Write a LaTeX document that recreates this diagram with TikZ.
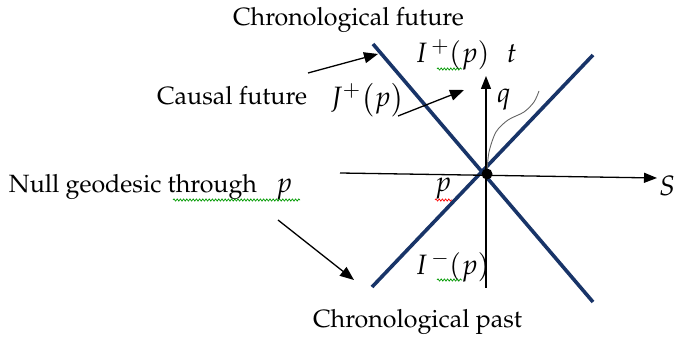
\documentclass[tikz,border=0pt]{standalone}
\usepackage[T1]{fontenc}
\usepackage{mathpazo}
\usetikzlibrary{arrows.meta,decorations.pathmorphing}
\definecolor{navy}{RGB}{24,52,104}
\tikzset{
  lbl/.style={inner sep=0pt,outer sep=0pt,anchor=base west,font=\fontsize{25}{30}\selectfont},
  mlbl/.style={inner sep=0pt,outer sep=0pt,anchor=base west,font=\fontsize{28}{32}\selectfont},
  nullline/.style={navy,line width=3.6pt},
  axis/.style={black,line width=1.3pt,-{Triangle[length=13pt,width=10pt]}},
  pointer/.style={black,line width=1.3pt,-{Triangle[length=14pt,width=11pt]}},
  squig/.style={line width=0.7pt,decorate,decoration={snake,amplitude=1.1pt,segment length=3.2pt}},
  worldline/.style={gray!80!black,line width=0.9pt}
}
\begin{document}
\begin{tikzpicture}[x=1pt,y=-1pt]
\useasboundingbox (0,0) rectangle (678,339);
% coordinates
\coordinate (P) at (487,174);
\coordinate (A1) at (373,44);
\coordinate (A2) at (593,302);
\coordinate (B1) at (372,287);
\coordinate (B2) at (593,55);
\coordinate (H1) at (340,173);
\coordinate (H2) at (657,178);
\coordinate (V1) at (486,288);
\coordinate (V2) at (486,76);
\coordinate (r1s) at (308,73);
\coordinate (r1e) at (378,54);
\coordinate (r2s) at (398,116);
\coordinate (r2e) at (464,90);
\coordinate (r3s) at (278,220);
\coordinate (r3e) at (354,280);
% null lines
\draw[nullline] (A1) -- (A2);
\draw[nullline] (B1) -- (B2);
% axes
\draw[axis] (H1) -- (H2);
\draw[axis] (V1) -- (V2);
% world line through p
\draw[worldline] plot[smooth] coordinates {(487,172) (489,152) (496,132) (508,120) (524,112) (534,102) (539,91)};
% event p
\fill[black] (P) circle (5.5);
% labels
\node[lbl] (cf) at (233,26) {Chronological future};
\node[lbl] (causal) at (157,105) {Causal future};
\node[mlbl] (J) at (330,107) {$J^{+}\bigl(p\bigr)$};
\node[lbl] (ng) at (9,193) {Null geodesic through};
\node[mlbl] (pn) at (276,193) {$p$};
\node[mlbl] (Ip) at (415,63) {$I^{\,+}(p)\hspace{17pt}t$};
\node[mlbl] (q) at (497,103) {$q$};
\node[mlbl] (pl) at (435,192) {$p$};
\node[mlbl] (S) at (659,196) {$S$};
\node[mlbl] (Im) at (415,275) {$I^{\,-}(p)$};
\node[lbl] (cp) at (313,327) {Chronological past};
% pointers
\draw[pointer] (r1s) -- (r1e);
\draw[pointer] (r2s) -- (r2e);
\draw[pointer] (r3s) -- (r3e);
% spell-check squiggles
\draw[squig,green!60!black] (173,200) -- (300,200);
\draw[squig,green!60!black] (437,69) -- (462,69);
\draw[squig,green!60!black] (437,280) -- (462,280);
\draw[squig,red] (435,200) -- (452,200);
\end{tikzpicture}
\end{document}
